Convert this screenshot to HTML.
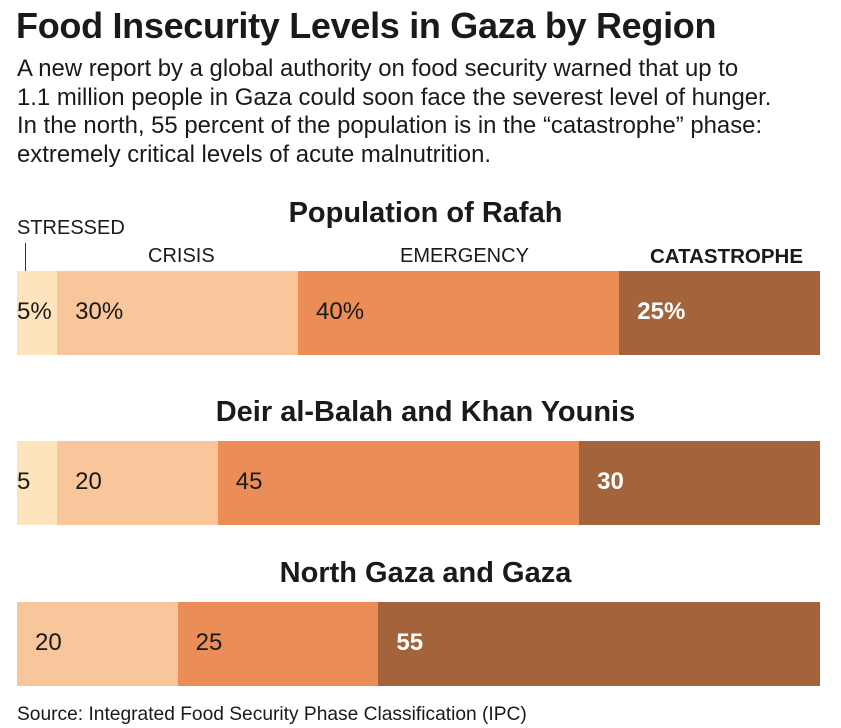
<!DOCTYPE html>
<html><head><meta charset="utf-8"><style>
body{margin:0;background:#fff;font-family:"Liberation Sans",sans-serif;color:#1a1a1a}
#wrap{position:relative;width:841px;height:728px;overflow:hidden}
.t{position:absolute;white-space:nowrap}
</style></head><body>
<div id="wrap">
<div class="t" style="left:16px;top:5px;font-size:36px;font-weight:bold;letter-spacing:-0.3px">Food Insecurity Levels in Gaza by Region</div>
<div class="t" style="left:17px;top:55px;font-size:23.9px;line-height:28.5px">A new report by a global authority on food security warned that up to<br>1.1 million people in Gaza could soon face the severest level of hunger.<br>In the north, 55 percent of the population is in the “catastrophe” phase:<br>extremely critical levels of acute malnutrition.</div>
<div class="t" style="left:17px;top:217px;font-size:20px">STRESSED</div>
<div style="position:absolute;left:25px;top:243px;width:1px;height:28px;background:#333"></div>
<div class="t" style="left:148px;top:245px;font-size:20px">CRISIS</div>
<div class="t" style="left:400px;top:245px;font-size:20px">EMERGENCY</div>
<div class="t" style="left:650px;top:245px;font-size:20.5px;font-weight:bold">CATASTROPHE</div>
<div class="t" style="left:17px;top:704px;font-size:19.2px">Source: Integrated Food Security Phase Classification (IPC)</div>
</div>
<script>
const regions=["Population of Rafah","Deir al-Balah and Khan Younis","North Gaza and Gaza"];
const stressed=[5,5,0];
const crisis=[30,20,20];
const emergency=[40,45,25];
const catastrophe=[25,30,55];
const labelSuffix=["%","",""];
const colors=["#fde4bd","#f9c59a","#ea8d57","#a3633b"];
const X0=17,W=803;
const tops=[271,441,602],H=84;
const titleOff=[74,45,45];
const xs=v=>v*W/100;
const wrap=document.getElementById('wrap');
regions.forEach((r,i)=>{
  const h=document.createElement('div');
  
  
  h.className='t';
  h.style.cssText=`left:${X0+7}px;width:${W}px;text-align:center;top:${tops[i]-titleOff[i]}px;font-size:29px;font-weight:bold`;
  h.textContent=r;wrap.appendChild(h);
  const vals=[stressed[i],crisis[i],emergency[i],catastrophe[i]];
  let acc=0;
  vals.forEach((v,k)=>{
    if(v<=0)return;
    const s=document.createElement('div');
    
    
    s.style.cssText=`position:absolute;left:${X0+xs(acc)}px;top:${tops[i]}px;width:${xs(v)}px;height:${H}px;background:${colors[k]}`;
    const l=document.createElement('div');
    
    
    l.className='t';
    const pad=k===0?0:18;
    l.style.cssText=`left:${pad}px;top:27px;font-size:24px;${k===3?'color:#fff;font-weight:bold':''}`;
    l.textContent=v+labelSuffix[i];
    s.appendChild(l);wrap.appendChild(s);
    acc+=v;
  });
});
</script>
</body></html>
